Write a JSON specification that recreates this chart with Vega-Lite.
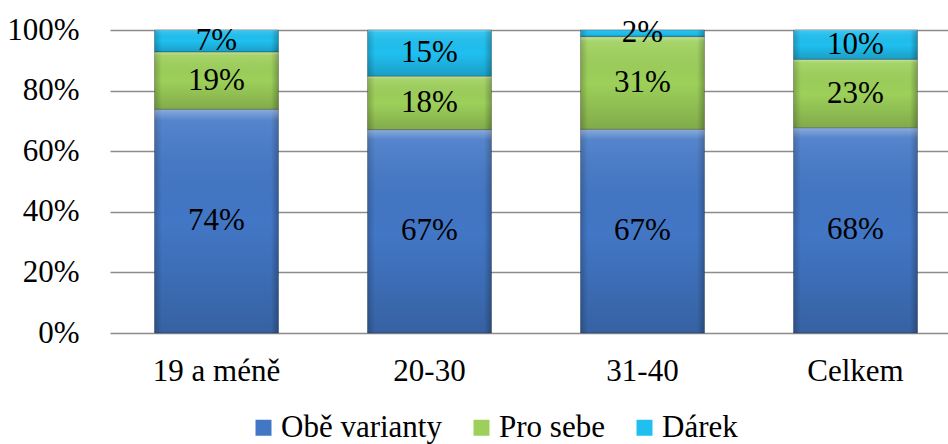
{
  "$schema": "https://vega.github.io/schema/vega-lite/v6.json",
  "width": 838,
  "height": 303,
  "autosize": {"type": "none"},
  "padding": {"left": 110, "top": 30, "right": 0, "bottom": 111},
  "background": "white",
  "config": {"font": "Liberation Serif", "view": {"stroke": null}},
  "data": {
    "values": [
      {"cat": "19 a méně", "series": "Obě varianty", "value": 0.738},
      {"cat": "19 a méně", "series": "Pro sebe", "value": 0.189},
      {"cat": "19 a méně", "series": "Dárek", "value": 0.073},
      {"cat": "20-30", "series": "Obě varianty", "value": 0.671},
      {"cat": "20-30", "series": "Pro sebe", "value": 0.176},
      {"cat": "20-30", "series": "Dárek", "value": 0.153},
      {"cat": "31-40", "series": "Obě varianty", "value": 0.672},
      {"cat": "31-40", "series": "Pro sebe", "value": 0.306},
      {"cat": "31-40", "series": "Dárek", "value": 0.022},
      {"cat": "Celkem", "series": "Obě varianty", "value": 0.677},
      {"cat": "Celkem", "series": "Pro sebe", "value": 0.226},
      {"cat": "Celkem", "series": "Dárek", "value": 0.097}
    ]
  },
  "transform": [
    {"calculate": "indexof(['Obě varianty','Pro sebe','Dárek'], datum.series)", "as": "k"},
    {"stack": "value", "groupby": ["cat"], "sort": [{"field": "k", "order": "ascending"}], "as": ["v0", "v1"]},
    {"calculate": "(datum.v0 + datum.v1) / 2", "as": "vm"}
  ],
  "encoding": {
    "x": {
      "field": "cat",
      "type": "nominal",
      "sort": ["19 a méně", "20-30", "31-40", "Celkem"],
      "scale": {"range": [0, 852], "paddingInner": 0.418, "paddingOuter": 0.209},
      "axis": {
        "title": null,
        "labelAngle": 0,
        "labelFontSize": 31,
        "labelColor": "black",
        "labelFont": "Liberation Serif",
        "ticks": false,
        "domain": false,
        "labelPadding": 23
      }
    }
  },
  "layer": [
    {
      "mark": {"type": "bar"},
      "encoding": {
        "y": {
          "field": "v0",
          "type": "quantitative",
          "scale": {"domain": [0, 1], "nice": false},
          "axis": {
            "title": null,
            "values": [0, 0.2, 0.4, 0.6, 0.8, 1],
            "format": ".0%",
            "labelFontSize": 31,
            "labelColor": "black",
            "labelFont": "Liberation Serif",
            "ticks": false,
            "domain": false,
            "labelPadding": 31,
            "gridColor": "#8c8c8c",
            "gridWidth": 1.5
          }
        },
        "y2": {"field": "v1"},
        "color": {
          "field": "series",
          "type": "nominal",
          "scale": {
            "domain": ["Obě varianty", "Pro sebe", "Dárek"],
            "range": ["#4277c6", "#9dd05a", "#1fc0f0"]
          },
          "legend": {
            "orient": "none",
            "legendX": 138,
            "legendY": 382,
            "direction": "horizontal",
            "title": null,
            "symbolType": "square",
            "symbolSize": 256,
            "symbolStrokeWidth": 0,
            "labelFontSize": 31,
            "labelFont": "Liberation Serif",
            "labelColor": "black",
            "labelLimit": 400,
            "labelOffset": 2,
            "columnPadding": 24
          }
        }
      }
    },
    {
      "mark": {
        "type": "bar",
        "stroke": "rgba(0,0,0,0.25)",
        "strokeWidth": 1,
        "fill": {
          "gradient": "linear", "x1": 0, "x2": 1, "y1": 0, "y2": 0,
          "stops": [
            {"offset": 0, "color": "rgba(0,0,0,0.2)"},
            {"offset": 0.06, "color": "rgba(0,0,0,0)"},
            {"offset": 0.94, "color": "rgba(0,0,0,0)"},
            {"offset": 1, "color": "rgba(0,0,0,0.25)"}
          ]
        }
      },
      "encoding": {
        "y": {"field": "v0", "type": "quantitative"},
        "y2": {"field": "v1"}
      }
    },
    {
      "mark": {
        "type": "bar",
        "fill": {
          "gradient": "linear", "x1": 0, "x2": 0, "y1": 0, "y2": 1,
          "stops": [
            {"offset": 0, "color": "rgba(255,255,255,0.38)"},
            {"offset": 0.05, "color": "rgba(255,255,255,0.1)"},
            {"offset": 0.5, "color": "rgba(0,0,0,0)"},
            {"offset": 1, "color": "rgba(0,0,0,0.18)"}
          ]
        }
      },
      "encoding": {
        "y": {"field": "v0", "type": "quantitative"},
        "y2": {"field": "v1"}
      }
    },
    {
      "mark": {"type": "text", "fontSize": 31, "font": "Liberation Serif", "color": "black", "baseline": "middle"},
      "encoding": {
        "y": {"field": "vm", "type": "quantitative"},
        "text": {"field": "value", "type": "quantitative", "format": ".0%"}
      }
    }
  ]
}
